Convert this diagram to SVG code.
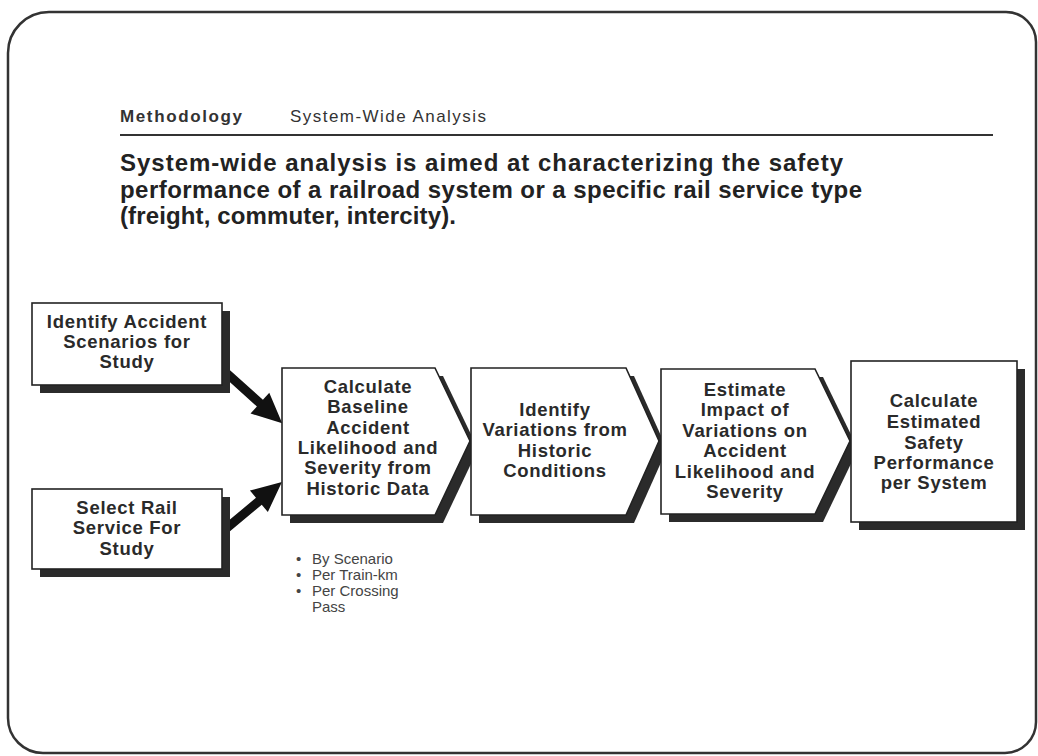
<svg xmlns="http://www.w3.org/2000/svg" width="1038" height="756" viewBox="0 0 1038 756">
<defs>
<style>
.frame{fill:none;stroke:#333;stroke-width:2.5}
.box{fill:#fff;stroke:#222;stroke-width:1.6}
.shadow{fill:#2b2b2b}
.bt{font-family:"Liberation Sans",Arial,sans-serif;font-weight:bold;font-size:18.5px;letter-spacing:0.7px;fill:#2a2a2a;text-anchor:middle}
.hd{font-family:"Liberation Sans",Arial,sans-serif;font-weight:bold;font-size:24px;fill:#222}
.hdr{font-family:"Liberation Sans",Arial,sans-serif;font-size:17px;fill:#333}
.bl{font-family:"Liberation Sans",Arial,sans-serif;font-size:15px;fill:#444}
.arrow{fill:#111}
</style>
</defs>
<rect width="1038" height="756" fill="#fff"/>
<path class="frame" d="M8,53 A41,41 0 0 1 49,12 L1006,12 A30,30 0 0 1 1036,42 L1036,722 A31,31 0 0 1 1005,753 L43,753 A35,35 0 0 1 8,718 Z"/>

<g id="header">
<text class="hdr" x="120" y="122" font-weight="bold" textLength="122" lengthAdjust="spacing">Methodology</text>
<text class="hdr" x="290" y="122" textLength="196" lengthAdjust="spacing">System-Wide Analysis</text>
<line x1="120" y1="135" x2="993" y2="135" stroke="#333" stroke-width="2"/>
<text class="hd" x="120" y="171" textLength="723" lengthAdjust="spacing">System-wide analysis is aimed at characterizing the safety</text>
<text class="hd" x="120" y="198" textLength="742" lengthAdjust="spacing">performance of a railroad system or a specific rail service type</text>
<text class="hd" x="120" y="224" textLength="336" lengthAdjust="spacing">(freight, commuter, intercity).</text>
</g>

<g id="connectors">
<g transform="translate(222,369) rotate(42)"><polygon class="arrow" points="0,-4.5 51,-4.5 51,-14 81,0 51,14 51,4.5 0,4.5"/></g>
<g transform="translate(222,532) rotate(-39.8)"><polygon class="arrow" points="0,-4.5 48,-4.5 48,-14 78,0 48,14 48,4.5 0,4.5"/></g>
</g>

<g id="node-identify-scenarios">
<rect class="shadow" x="40" y="311" width="190" height="82"/>
<rect class="box" x="32" y="303" width="190" height="82"/>
<text class="bt" x="127" y="328">Identify Accident</text>
<text class="bt" x="127" y="348">Scenarios for</text>
<text class="bt" x="127" y="368">Study</text>
</g>

<g id="node-select-service">
<rect class="shadow" x="40" y="497" width="190" height="80"/>
<rect class="box" x="32" y="489" width="190" height="80"/>
<text class="bt" x="127" y="514">Select Rail</text>
<text class="bt" x="127" y="534">Service For</text>
<text class="bt" x="127" y="555">Study</text>
</g>

<g id="node-baseline">
<polygon class="shadow" points="290,376 443,376 478,449 443,523 290,523"/>
<polygon class="box" points="282,368 435,368 470,441 435,515 282,515"/>
<text class="bt" x="368" y="393">Calculate</text>
<text class="bt" x="368" y="413">Baseline</text>
<text class="bt" x="368" y="434">Accident</text>
<text class="bt" x="368" y="454">Likelihood and</text>
<text class="bt" x="368" y="474">Severity from</text>
<text class="bt" x="368" y="495">Historic Data</text>
</g>

<g id="node-variations">
<polygon class="shadow" points="479,376 634,376 667,449 634,523 479,523"/>
<polygon class="box" points="471,368 626,368 659,441 626,515 471,515"/>
<text class="bt" x="555" y="416">Identify</text>
<text class="bt" x="555" y="436">Variations from</text>
<text class="bt" x="555" y="457">Historic</text>
<text class="bt" x="555" y="477">Conditions</text>
</g>

<g id="node-impact">
<polygon class="shadow" points="669,377 823,377 858,449 823,522 669,522"/>
<polygon class="box" points="661,369 815,369 850,441 815,514 661,514"/>
<text class="bt" x="745" y="396">Estimate</text>
<text class="bt" x="745" y="416">Impact of</text>
<text class="bt" x="745" y="437">Variations on</text>
<text class="bt" x="745" y="457">Accident</text>
<text class="bt" x="745" y="478">Likelihood and</text>
<text class="bt" x="745" y="498">Severity</text>
</g>

<g id="node-performance">
<rect class="shadow" x="859" y="369" width="166" height="161"/>
<rect class="box" x="851" y="361" width="166" height="161"/>
<text class="bt" x="934" y="407">Calculate</text>
<text class="bt" x="934" y="428">Estimated</text>
<text class="bt" x="934" y="449">Safety</text>
<text class="bt" x="934" y="469">Performance</text>
<text class="bt" x="934" y="489">per System</text>
</g>

<g id="bullets">
<text class="bl" x="296" y="564">•</text><text class="bl" x="312" y="564">By Scenario</text>
<text class="bl" x="296" y="580">•</text><text class="bl" x="312" y="580">Per Train-km</text>
<text class="bl" x="296" y="596">•</text><text class="bl" x="312" y="596">Per Crossing</text>
<text class="bl" x="312" y="612">Pass</text>
</g>
</svg>
